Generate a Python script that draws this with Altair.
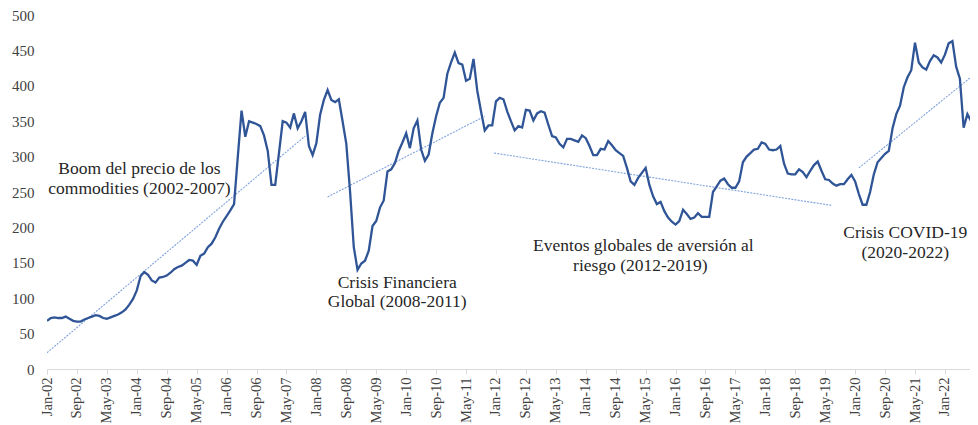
import altair as alt
import pandas as pd

# Monthly index values, Jan-2002 .. Oct-2022 (one list per year)
v2002 = [68, 72, 73, 72, 72, 74, 71, 68, 67, 67, 70, 72]
v2003 = [74, 76, 75, 72, 71, 73, 75, 77, 80, 84, 91, 99]
v2004 = [111, 131, 137, 133, 125, 122, 129, 130, 132, 136, 141, 144]
v2005 = [146, 150, 154, 153, 147, 160, 163, 172, 177, 186, 198, 208]
v2006 = [216, 224, 233, 300, 365, 328, 350, 348, 346, 343, 330, 308]
v2007 = [260, 260, 305, 350, 348, 341, 361, 340, 350, 363, 315, 302]
v2008 = [319, 359, 380, 394, 380, 377, 381, 350, 318, 251, 172, 140]
v2009 = [149, 153, 167, 202, 209, 228, 238, 279, 282, 291, 308, 320]
v2010 = [333, 312, 340, 351, 310, 294, 303, 333, 357, 376, 383, 417]
v2011 = [433, 447, 432, 430, 407, 410, 438, 393, 364, 337, 344, 344]
v2012 = [378, 383, 381, 364, 350, 337, 343, 341, 366, 365, 351, 361]
v2013 = [364, 362, 345, 329, 327, 318, 313, 325, 325, 323, 321, 330]
v2014 = [326, 315, 302, 302, 311, 310, 322, 316, 309, 305, 301, 284]
v2015 = [265, 260, 270, 277, 284, 260, 244, 233, 236, 223, 214, 208]
v2016 = [204, 209, 225, 219, 212, 214, 220, 215, 215, 215, 250, 258]
v2017 = [266, 269, 261, 256, 256, 265, 292, 300, 305, 310, 311, 320]
v2018 = [318, 310, 309, 310, 315, 290, 276, 275, 275, 282, 278, 271]
v2019 = [280, 288, 293, 280, 268, 267, 262, 259, 261, 261, 268, 274]
v2020 = [265, 247, 232, 232, 250, 275, 292, 298, 304, 308, 340, 360]
v2021 = [372, 398, 412, 422, 461, 433, 426, 423, 435, 443, 440, 433]
v2022 = [444, 460, 463, 427, 410, 341, 360, 350, 347, 357]

tick_labels = ["Jan-02", "Sep-02", "May-03", "Jan-04", "Sep-04", "May-05", "Jan-06",
               "Sep-06", "May-07", "Jan-08", "Sep-08", "May-09", "Jan-10", "Sep-10",
               "May-11", "Jan-12", "Sep-12", "May-13", "Jan-14", "Sep-14", "May-15",
               "Jan-16", "Sep-16", "May-17", "Jan-18", "Sep-18", "May-19", "Jan-20",
               "Sep-20", "May-21", "Jan-22", "Sep-22"]

# Trend segments: start month index, start value, end month index, end value
trend_x = [0, 75, 119.5, 217]
trend_y = [23, 243, 305, 284]
trend_x2 = [69, 117, 209.8, 249]
trend_y2 = [329, 357, 231, 421]

# Annotations
ann_text = ["Boom del precio de los", "commodities (2002-2007)",
            "Crisis Financiera", "Global (2008-2011)",
            "Eventos globales de aversión al", "riesgo (2012-2019)",
            "Crisis COVID-19", "(2020-2022)"]
ann_x = [24.7, 24.7, 93.6, 93.6, 159.4, 158.6, 229.4, 229.4]
ann_y = [282, 254, 121, 94, 174, 146, 192, 164]

values = (v2002 + v2003 + v2004 + v2005 + v2006 + v2007 + v2008 + v2009 + v2010 +
          v2011 + v2012 + v2013 + v2014 + v2015 + v2016 + v2017 + v2018 + v2019 +
          v2020 + v2021 + v2022)
df = pd.DataFrame({"m": list(range(len(values))), "v": values})
trend = pd.DataFrame({"x": trend_x, "y": trend_y, "x2": trend_x2, "y2": trend_y2})
ann = pd.DataFrame({"x": ann_x, "y": ann_y, "t": ann_text})

FONT = "Liberation Serif"
label_expr = "[" + ",".join("'%s'" % s for s in tick_labels) + "][round(datum.value/8)]"

X_END = 246.7
xscale = alt.Scale(domain=[0, X_END], nice=False, zero=False)
yscale = alt.Scale(domain=[0, 500], nice=False)

xaxis = alt.Axis(values=list(range(0, 247, 8)), tickCount=60, labelExpr=label_expr,
                 labelAngle=270, title=None, grid=False, domainColor="#D9D9D9",
                 tickColor="#D9D9D9", tickSize=5, labelPadding=3, labelFont=FONT,
                 labelFontSize=14.5, labelColor="#404040", labelOverlap=False,
                 labelFlush=False)
yaxis = alt.Axis(values=list(range(0, 501, 50)), tickCount=20, title=None, grid=False,
                 domain=False, ticks=False, labelPadding=13, labelFont=FONT,
                 labelFontSize=15, labelColor="#404040")

line = alt.Chart(df).mark_line(color="#2F5597", strokeWidth=2.3, clip=True).encode(
    x=alt.X("m:Q", scale=xscale, axis=xaxis),
    y=alt.Y("v:Q", scale=yscale, axis=yaxis),
)

trends = alt.Chart(trend).mark_rule(color="#7FA3DC", strokeWidth=1.1,
                                    strokeDash=[2, 1.2], clip=True).encode(
    x=alt.X("x:Q", scale=xscale), y=alt.Y("y:Q", scale=yscale),
    x2="x2:Q", y2="y2:Q")

texts = alt.Chart(ann).mark_text(font=FONT, fontSize=17.5, color="#262626",
                                 align="center", baseline="middle").encode(
    x=alt.X("x:Q", scale=xscale), y=alt.Y("y:Q", scale=yscale), text="t:N")

chart = alt.layer(trends, line, texts).properties(
    width=923, height=354,
    autosize=alt.AutoSizeParams(type="none"),
    padding={"left": 39, "top": 7, "right": 0, "bottom": 60},
).configure_view(stroke=None)

chart.save("out.html", embed_options={"renderer": "svg", "actions": False})
